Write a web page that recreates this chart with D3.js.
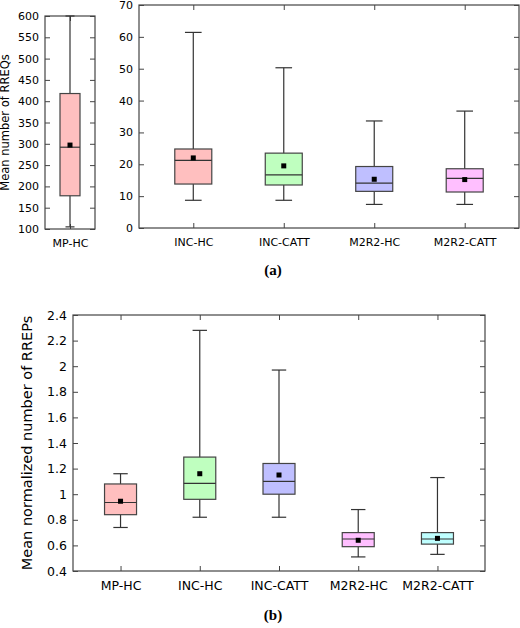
<!DOCTYPE html>
<html>
<head>
<meta charset="utf-8">
<style>
body{margin:0;background:#fff;}
text{fill:#000;}
.frame{fill:none;stroke:#444;stroke-width:1.2;}
</style>
</head>
<body>
<script src="https://cdn.jsdelivr.net/npm/d3@7"></script>
<script>
// panel (a) left: [min, q1, median, q3, max, mean]
var aLeftCats = ["MP-HC"];
var aLeftStats = [[105, 178, 292, 418, 600, 297]];
var aLeftTicks = [100,150,200,250,300,350,400,450,500,550,600];
// panel (a) right
var aRightCats = ["INC-HC","INC-CATT","M2R2-HC","M2R2-CATT"];
var aRightStats = [
  [8.7, 13.8, 21.2, 24.8, 61.4, 22.0],
  [8.7, 13.5, 16.7, 23.5, 50.3, 19.5],
  [7.4, 11.5, 14.1, 19.3, 33.6, 15.3],
  [7.4, 11.3, 15.6, 18.6, 36.7, 15.2]];
var aRightTicks = [0,10,20,30,40,50,60,70];
// panel (b)
var bCats = ["MP-HC","INC-HC","INC-CATT","M2R2-HC","M2R2-CATT"];
var bStats = [
  [0.74, 0.84, 0.935, 1.08, 1.16, 0.945],
  [0.82, 0.96, 1.085, 1.29, 2.28, 1.16],
  [0.82, 1.00, 1.10, 1.24, 1.97, 1.15],
  [0.51, 0.59, 0.65, 0.70, 0.88, 0.64],
  [0.53, 0.61, 0.65, 0.70, 1.13, 0.655]];
var bTicks = [0.4,0.6,0.8,1,1.2,1.4,1.6,1.8,2,2.2,2.4];
var aLeftColors = ["#ffbfbf"];
var aRightColors = ["#ffbfbf","#bfffbf","#bfbfff","#ffbfff"];
var bColors = ["#ffbfbf","#bfffbf","#bfbfff","#ffbfff","#bfffff"];

var svg = d3.select("body").append("svg").attr("width",520).attr("height",628);

function panel(o){
  var x = d3.scalePoint().domain(o.cats).range([o.x0,o.x1]).padding(o.pad);
  var y = d3.scaleLinear().domain(o.dom).range([o.y1,o.y0]);
  var g = svg.append("g");
  g.append("rect").attr("class","frame").attr("x",o.x0).attr("y",o.y0)
    .attr("width",o.x1-o.x0).attr("height",o.y1-o.y0);
  var fmt = d3.format("~g");
  g.append("g").attr("transform","translate("+o.x0+",0)")
    .call(d3.axisLeft(y).tickValues(o.ticks).tickSize(-5).tickPadding(6).tickFormat(fmt))
    .call(function(s){s.select(".domain").remove();s.selectAll("line").attr("stroke","#444");
      s.selectAll("text").style("font-size",o.fs+"px").attr("font-family","DejaVu Sans");});
  g.append("g").attr("transform","translate("+o.x1+",0)")
    .call(d3.axisRight(y).tickValues(o.ticks).tickSize(-5).tickFormat(""))
    .call(function(s){s.select(".domain").remove();s.selectAll("line").attr("stroke","#444");});
  g.append("g").attr("transform","translate(0,"+o.y1+")")
    .call(d3.axisBottom(x).tickSize(-5).tickPadding(10))
    .call(function(s){s.select(".domain").remove();s.selectAll("line").attr("stroke","#444");
      s.selectAll("text").style("font-size",o.fs+"px").attr("font-family","DejaVu Sans");});
  g.append("g").attr("transform","translate(0,"+o.y0+")")
    .call(d3.axisTop(x).tickSize(-5).tickFormat(""))
    .call(function(s){s.select(".domain").remove();s.selectAll("line").attr("stroke","#444");});
  var bw = o.bw, cw = o.bw*0.45;
  var b = g.selectAll(".box").data(o.stats).enter().append("g");
  b.append("line").attr("x1",function(d,i){return x(o.cats[i]);}).attr("x2",function(d,i){return x(o.cats[i]);})
    .attr("y1",function(d){return y(d[0]);}).attr("y2",function(d){return y(d[4]);}).attr("stroke","#333").attr("stroke-width",1.2);
  [0,4].forEach(function(k){
    b.append("line").attr("x1",function(d,i){return x(o.cats[i])-cw/2;}).attr("x2",function(d,i){return x(o.cats[i])+cw/2;})
      .attr("y1",function(d){return y(d[k]);}).attr("y2",function(d){return y(d[k]);}).attr("stroke","#333").attr("stroke-width",1.2);
  });
  b.append("rect").attr("x",function(d,i){return x(o.cats[i])-bw/2;}).attr("width",bw)
    .attr("y",function(d){return y(d[3]);}).attr("height",function(d){return y(d[1])-y(d[3]);})
    .attr("fill",function(d,i){return o.colors[i];}).attr("stroke","#444").attr("stroke-width",1.2);
  b.append("line").attr("x1",function(d,i){return x(o.cats[i])-bw/2;}).attr("x2",function(d,i){return x(o.cats[i])+bw/2;})
    .attr("y1",function(d){return y(d[2]);}).attr("y2",function(d){return y(d[2]);}).attr("stroke","#333").attr("stroke-width",1.2);
  b.append("rect").attr("x",function(d,i){return x(o.cats[i])-2.5;}).attr("y",function(d){return y(d[5])-2.5;})
    .attr("width",5).attr("height",5).attr("fill","#000");
  if(o.ylab){
    g.append("text").attr("transform","translate("+o.ylx+","+((o.y0+o.y1)/2)+") rotate(-90)")
      .attr("text-anchor","middle").attr("font-family","DejaVu Sans").style("font-size",o.ylfs+"px").text(o.ylab);
  }
}

panel({cats:aLeftCats,stats:aLeftStats,colors:aLeftColors,ticks:aLeftTicks,dom:[100,600],
  x0:45,x1:95,y0:16,y1:229,pad:0.5,bw:20,fs:11,ylab:"Mean number of RREQs",ylx:9,ylfs:11.5});
panel({cats:aRightCats,stats:aRightStats,colors:aRightColors,ticks:aRightTicks,dom:[0,70],
  x0:139,x1:519,y0:5,y1:228,pad:0.6,bw:37,fs:11});
panel({cats:bCats,stats:bStats,colors:bColors,ticks:bTicks,dom:[0.4,2.4],
  x0:73,x1:485,y0:315,y1:571,pad:0.6,bw:32,fs:12.5,ylab:"Mean normalized number of RREPs",ylx:32,ylfs:14.5});

svg.append("text").attr("x",273).attr("y",275).attr("text-anchor","middle")
  .attr("font-family","Liberation Serif").attr("font-weight","bold").attr("font-size","15px").text("(a)");
svg.append("text").attr("x",273).attr("y",620).attr("text-anchor","middle")
  .attr("font-family","Liberation Serif").attr("font-weight","bold").attr("font-size","15px").text("(b)");
</script>
</body>
</html>
